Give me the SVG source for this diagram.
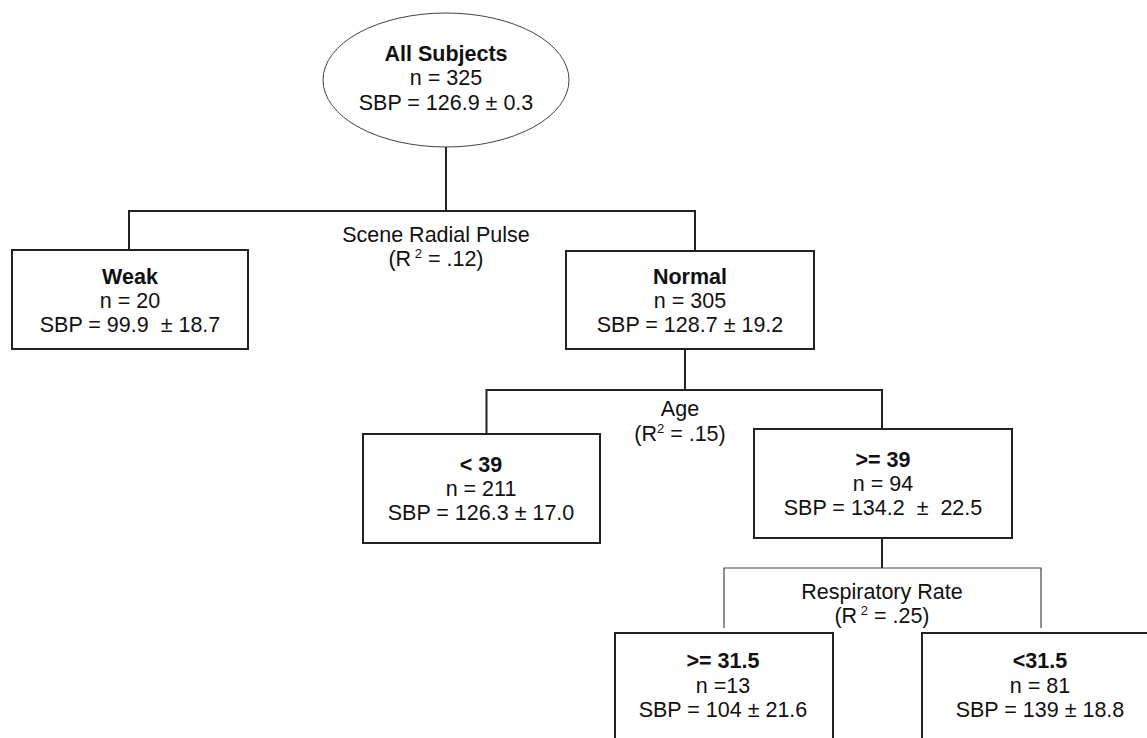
<svg xmlns="http://www.w3.org/2000/svg" width="1147" height="738" viewBox="0 0 1147 738">
<style>
text{font-family:"Liberation Sans",Arial,sans-serif;font-size:21.5px;fill:#111;text-anchor:middle;white-space:pre}
.b{font-weight:bold}
.box{fill:#fff;stroke:#222;stroke-width:2}
.ell{fill:#fff;stroke:#444;stroke-width:1}
.c{fill:none;stroke:#222;stroke-width:2}
.t{fill:none;stroke:#444;stroke-width:1.2}
.sup{font-size:13px}
</style>
<rect width="1147" height="738" fill="#fff"/>
<g id="connectors">
<path class="c" d="M446 147V211M129 250V211H695V251"/>
<path class="c" d="M685 349V390M486.5 434V390H882V429"/>
<path class="c" d="M882 538V568"/>
<path class="t" d="M724 628V568H1041V628"/>
</g>
<g id="labels">
<text x="436" y="242">Scene Radial Pulse</text>
<text x="436" y="266">(R<tspan class="sup" dy="-8"> 2</tspan><tspan dy="8"> = .12)</tspan></text>
<text x="680" y="416">Age</text>
<text x="680" y="441">(R<tspan class="sup" dy="-8">2</tspan><tspan dy="8"> = .15)</tspan></text>
<text x="882" y="599">Respiratory Rate</text>
<text x="882" y="623">(R<tspan class="sup" dy="-8"> 2</tspan><tspan dy="8"> = .25)</tspan></text>
</g>
<g id="root">
<ellipse class="ell" cx="446" cy="80" rx="123" ry="67"/>
<text class="b" x="446" y="61">All Subjects</text>
<text x="446" y="85">n = 325</text>
<text x="446" y="110">SBP = 126.9 ± 0.3</text>
</g>
<g id="weak">
<rect class="box" x="12" y="250" width="236" height="99"/>
<text class="b" x="130" y="284">Weak</text>
<text x="130" y="308">n = 20</text>
<text x="130" y="332">SBP = 99.9  ± 18.7</text>
</g>
<g id="normal">
<rect class="box" x="566" y="251" width="248" height="98"/>
<text class="b" x="690" y="284">Normal</text>
<text x="690" y="308">n = 305</text>
<text x="690" y="332">SBP = 128.7 ± 19.2</text>
</g>
<g id="age-lt39">
<rect class="box" x="363" y="434" width="237" height="109"/>
<text class="b" x="481" y="472">&lt; 39</text>
<text x="481" y="496">n = 211</text>
<text x="481" y="520">SBP = 126.3 ± 17.0</text>
</g>
<g id="age-ge39">
<rect class="box" x="754" y="429" width="258" height="109"/>
<text class="b" x="883" y="467">&gt;= 39</text>
<text x="883" y="491">n = 94</text>
<text x="883" y="515">SBP = 134.2  ±  22.5</text>
</g>
<g id="rr-ge315">
<rect class="box" x="615" y="633" width="218" height="130"/>
<text class="b" x="723" y="668">&gt;= 31.5</text>
<text x="723" y="693">n =13</text>
<text x="723" y="717">SBP = 104 ± 21.6</text>
</g>
<g id="rr-lt315">
<rect class="box" x="922" y="633" width="238" height="130"/>
<text class="b" x="1040" y="668">&lt;31.5</text>
<text x="1040" y="693">n = 81</text>
<text x="1040" y="717">SBP = 139 ± 18.8</text>
</g>
</svg>
